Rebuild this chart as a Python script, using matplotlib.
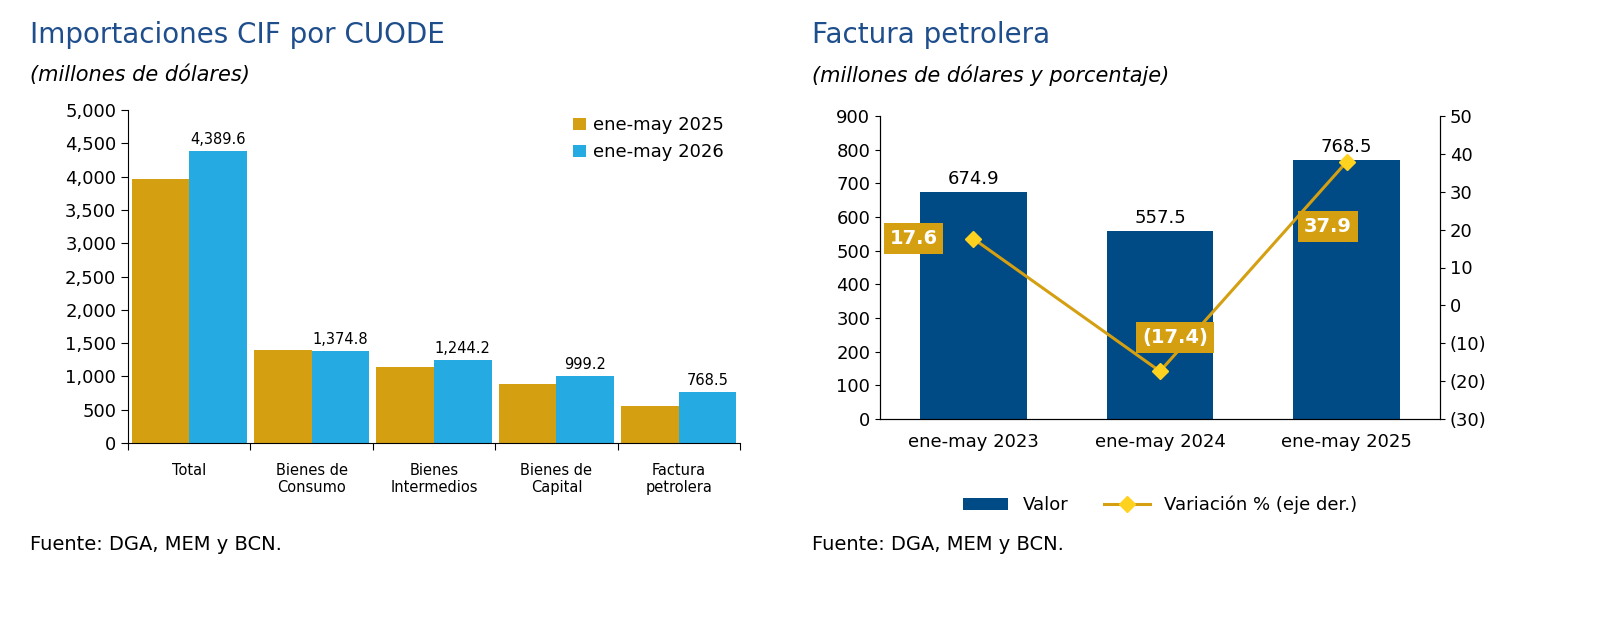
import numpy as np
import matplotlib.pyplot as plt
from matplotlib.ticker import FuncFormatter

# Left chart data
categorias = ['Total', 'Bienes de\nConsumo', 'Bienes\nIntermedios', 'Bienes de\nCapital', 'Factura\npetrolera']
serie_2025 = [3960, 1395, 1140, 880, 557.5]
serie_2026 = [4389.6, 1374.8, 1244.2, 999.2, 768.5]

# Right chart data
periodos = ['ene-may 2023', 'ene-may 2024', 'ene-may 2025']
valor = [674.9, 557.5, 768.5]
variacion = [17.6, -17.4, 37.9]

GOLD = '#D4A012'
CYAN = '#25AAE1'
NAVY = '#004A86'
TITLE = '#1F4E8C'

plt.rcParams['font.family'] = ['Verdana', 'DejaVu Sans']
fig = plt.figure(figsize=(16, 6.18), dpi=100)

# ---------- Left chart
ax1 = fig.add_axes([128/1600, 1-443/618, 612/1600, 333/618])
x = np.arange(len(categorias))
w = 0.47
ax1.bar(x - w/2, serie_2025, w, color=GOLD, label='ene-may 2025')
ax1.bar(x + w/2, serie_2026, w, color=CYAN, label='ene-may 2026')
for xi, v in zip(x, serie_2026):
    ax1.text(xi + w/2, v + 60, f'{v:,.1f}', ha='center', va='bottom', fontsize=10.5)
ax1.set_ylim(0, 5000)
ax1.set_xlim(-0.5, 4.5)
ax1.set_yticks(range(0, 5001, 500))
ax1.yaxis.set_major_formatter(FuncFormatter(lambda v, p: f'{v:,.0f}'))
ax1.set_xticks(np.arange(-0.5, 5, 1), minor=False)
ax1.set_xticklabels([])
for xi, c in zip(x, categorias):
    ax1.text(xi, -300, c, ha='center', va='top', fontsize=10.5)
ax1.tick_params(axis='y', labelsize=13, direction='out', length=5)
ax1.tick_params(axis='x', direction='out', length=5)
for s in ['top', 'right']:
    ax1.spines[s].set_visible(False)
ax1.legend(loc='upper right', bbox_to_anchor=(1.0, 1.03), frameon=False, fontsize=13,
           handlelength=0.7, handleheight=0.7, handletextpad=0.4)
fig.text(30/1600, 1-35/618, 'Importaciones CIF por CUODE', fontsize=20, color=TITLE, va='center')
fig.text(30/1600, 1-75/618, '(millones de dólares)', fontsize=15, style='italic', va='center')
fig.text(30/1600, 1-545/618, 'Fuente: DGA, MEM y BCN.', fontsize=14, va='center')

# ---------- Right chart
ax2 = fig.add_axes([880/1600, 1-419/618, 560/1600, 303/618])
xr = np.arange(len(periodos))
ax2.bar(xr, valor, 0.57, color=NAVY, label='Valor')
for xi, v in zip(xr, valor):
    ax2.text(xi, v + 12, f'{v:.1f}', ha='center', va='bottom', fontsize=13)
ax2.set_ylim(0, 900)
ax2.set_xlim(-0.5, 2.5)
ax2.set_yticks(range(0, 901, 100))
ax2.set_xticks(xr)
ax2.set_xticklabels(periodos)
ax2.tick_params(axis='both', labelsize=13)
ax2.tick_params(axis='x', length=0, pad=10)
ax2.spines['top'].set_visible(False)
ax3 = ax2.twinx()
ax3.plot(xr, variacion, color=GOLD, lw=2.2, marker='D', markersize=8,
         markerfacecolor='#FFD21F', markeredgecolor='#FFD21F', label='Variación % (eje der.)')
ax3.set_ylim(-30, 50)
ax3.set_yticks(range(-30, 51, 10))
ax3.yaxis.set_major_formatter(FuncFormatter(lambda v, p: f'({abs(v):.0f})' if v < 0 else f'{v:.0f}'))
ax3.tick_params(axis='y', labelsize=13)
ax3.spines['top'].set_visible(False)
box = dict(boxstyle='square,pad=0.3', facecolor=GOLD, edgecolor='none')
offsets = [(-0.32, 0), (0.08, 9), (-0.1, -17)]
for xi, v, (dx, dy) in zip(xr, variacion, offsets):
    lab = f'({abs(v):.1f})' if v < 0 else f'{v:.1f}'
    ax3.text(xi + dx, v + dy, lab, ha='center', va='center', fontsize=14,
             fontweight='bold', color='white', bbox=box)
h1, l1 = ax2.get_legend_handles_labels()
h2, l2 = ax3.get_legend_handles_labels()
ax2.legend(h1 + h2, l1 + l2, loc='upper center', bbox_to_anchor=(0.5, -0.2), ncol=2,
           frameon=False, fontsize=13, handlelength=2.5, columnspacing=2)
fig.text(812/1600, 1-35/618, 'Factura petrolera', fontsize=20, color=TITLE, va='center')
fig.text(812/1600, 1-75/618, '(millones de dólares y porcentaje)', fontsize=15, style='italic', va='center')
fig.text(812/1600, 1-545/618, 'Fuente: DGA, MEM y BCN.', fontsize=14, va='center')

fig.savefig('out.png', dpi=100)
